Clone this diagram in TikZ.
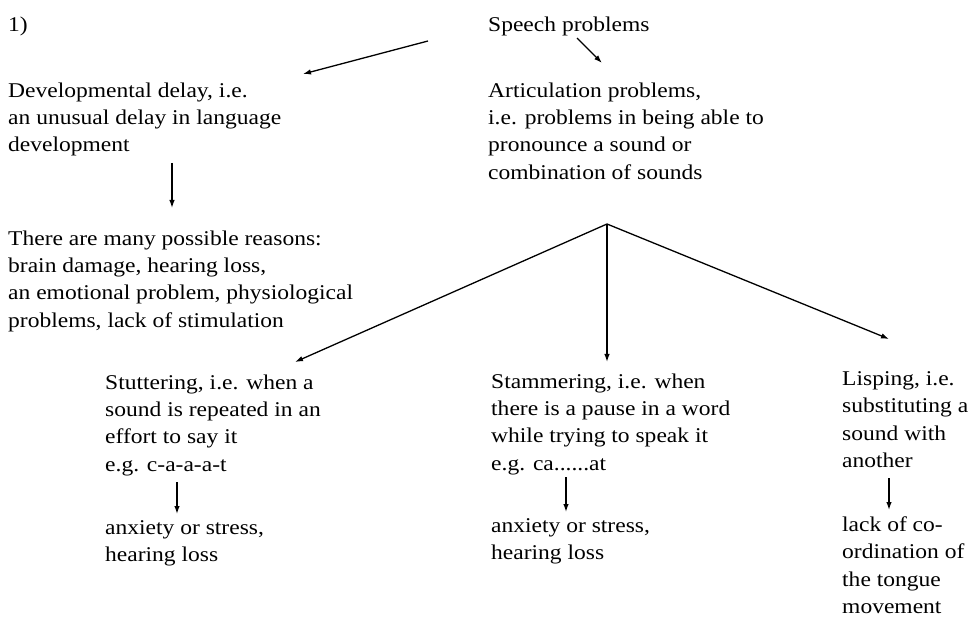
\documentclass[tikz,border=0pt]{standalone}
\usepackage{fontspec}
\setmainfont{Liberation Serif}[FakeStretch=1.12]
\usetikzlibrary{arrows.meta}
\tikzset{
  txt/.style={anchor=north west, inner sep=0pt, align=left, font=\fontsize{21}{27.3}\selectfont},
  arr/.style={line width=1.3pt, -{Latex[length=8pt,width=5.5pt]}}
}

\begin{document}
\begin{tikzpicture}[x=1pt,y=-1pt]
			%%%%% START %%%%%
			\useasboundingbox[fill=white] (0,0) rectangle (972,617);
			
			\node[txt] (num) at (8,16.5) {1)};
			\node[txt] (speech) at (488,16.5) {Speech problems};
			
			\node[txt] (dev) at (8,82.5) {Developmental delay, i.e.\\an unusual delay in language\\development};
			\node[txt] (artic) at (488,82.5) {Articulation problems,\\i.e. problems in being able to\\pronounce a sound or\\combination of sounds};
			
			\node[txt] (reasons) at (8,230.5) {There are many possible reasons:\\brain damage, hearing loss,\\an emotional problem, physiological\\problems, lack of stimulation};
			
			\node[txt] (stutter) at (105,374.5) {Stuttering, i.e. when a\\sound is repeated in an\\effort to say it\\e.g. c-a-a-a-t};
			\node[txt] (stammer) at (491,373.5) {Stammering, i.e. when\\there is a pause in a word\\while trying to speak it\\e.g. ca......at};
			\node[txt] (lisp) at (842,371.5) {Lisping, i.e.\\substituting a\\sound with\\another};
			
			\node[txt] (stuttercause) at (105,520.5) {anxiety or stress,\\hearing loss};
			\node[txt] (stammercause) at (491,518.5) {anxiety or stress,\\hearing loss};
			\node[txt] (lispcause) at (842,516.5) {lack of co-\\ordination of\\the tongue\\movement};
			
			\draw[arr] ([shift={(-60,24.5)}]speech.north west) -- ([shift={(295,-8.5)}]dev.north west);
			\draw[arr] ([shift={(89,21.5)}]speech.north west) -- ([shift={(114,-19.5)}]artic.north west);
			\draw[arr] ([shift={(164,80.5)}]dev.north west) -- ([shift={(164,-22.5)}]reasons.north west);
			
			\coordinate (fork) at ([shift={(119,141.5)}]artic.north west);
			\draw[arr] (fork) -- ([shift={(190,-12.5)}]stutter.north west);
			\draw[arr] (fork) -- ([shift={(116,-11.5)}]stammer.north west);
			\draw[arr] (fork) -- ([shift={(47,-32.5)}]lisp.north west);
			
			\draw[arr] ([shift={(72,107.5)}]stutter.north west) -- ([shift={(72,-6.5)}]stuttercause.north west);
			\draw[arr] ([shift={(75,103.5)}]stammer.north west) -- ([shift={(75,-6.5)}]stammercause.north west);
			\draw[arr] ([shift={(47,106.5)}]lisp.north west) -- ([shift={(47,-6.5)}]lispcause.north west);
			%%%%% END %%%%%
\end{tikzpicture}
\end{document}
